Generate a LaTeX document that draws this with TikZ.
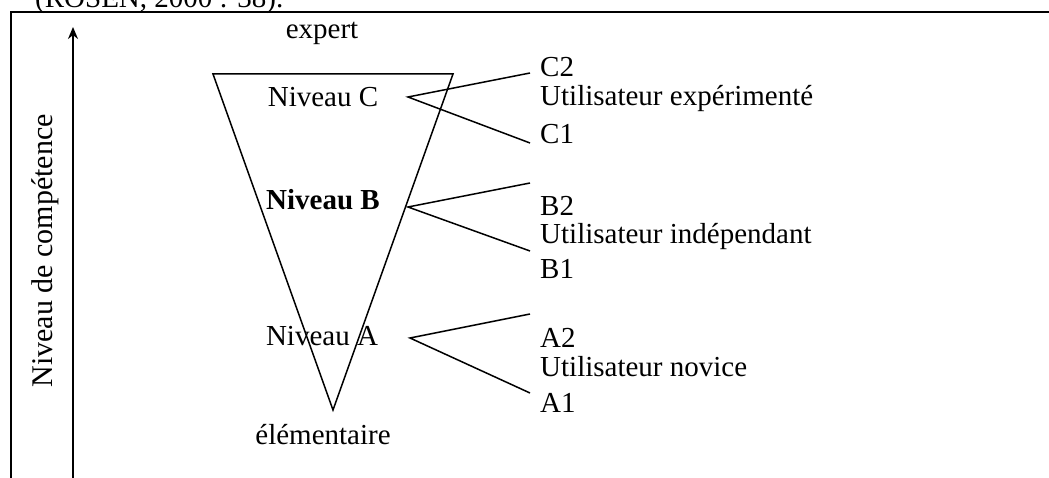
\documentclass[tikz,border=0pt]{standalone}
\usepackage{fontspec}
\setmainfont{Liberation Serif}
\usetikzlibrary{arrows.meta}

\tikzset{
  lvl/.style={anchor=base, inner sep=0pt},
  usr/.style={anchor=base west, inner sep=0pt},
  branch/.style={line width=1.5pt}
}

\begin{document}
\begin{tikzpicture}[x=1pt,y=-1pt,font=\fontsize{29}{34}\selectfont]
\useasboundingbox (0,0) rectangle (1049,478);
\node[usr] (src) at (35,8) {(ROSEN, 2000 : 38).};
% cadre
\draw[line width=1.8pt] (11,478) -- (11,12) -- (1049,12);
% axe vertical
\coordinate (axlo) at (73,478);
\coordinate (axhi) at (73,27);
\draw[line width=1.5pt,-{Stealth[length=12pt,width=10pt]}] (axlo) -- (axhi);
\node[lvl,rotate=90,font=\fontsize{30}{34}\selectfont] (axis) at (52,251) {Niveau de compétence};
% triangle
\coordinate (tl) at (213,74);
\coordinate (tr) at (453,74);
\coordinate (tip) at (333,410);
\draw[branch] (tl) -- (tr) -- (tip) -- cycle;
\node[lvl] (expert) at (322,39) {expert};
\node[lvl] (nivC) at (323,107) {Niveau C};
\node[lvl] (nivB) at (323,210) {\bfseries Niveau B};
\node[lvl] (nivA) at (322,345) {Niveau A};
\node[lvl] (elem) at (323,444) {élémentaire};
% branches
\coordinate (oC) at (408,97);
\coordinate (eC2) at (530,73);
\coordinate (eC1) at (530,143);
\draw[branch] (eC2) -- (oC) -- (eC1);
\coordinate (oB) at (408,207);
\coordinate (eB2) at (530,183);
\coordinate (eB1) at (530,251);
\draw[branch] (eB2) -- (oB) -- (eB1);
\coordinate (oA) at (410,338);
\coordinate (eA2) at (530,314);
\coordinate (eA1) at (530,393);
\draw[branch] (eA2) -- (oA) -- (eA1);
% utilisateurs
\node[usr] (C2) at (540,77) {C2};
\node[usr] (userC) at (540,106) {Utilisateur expérimenté};
\node[usr] (C1) at (540,144) {C1};
\node[usr] (B2) at (540,216) {B2};
\node[usr] (userB) at (540,244) {Utilisateur indépendant};
\node[usr] (B1) at (540,279) {B1};
\node[usr] (A2) at (540,347) {A2};
\node[usr] (userA) at (540,376) {Utilisateur novice};
\node[usr] (A1) at (540,412) {A1};
\end{tikzpicture}
\end{document}
